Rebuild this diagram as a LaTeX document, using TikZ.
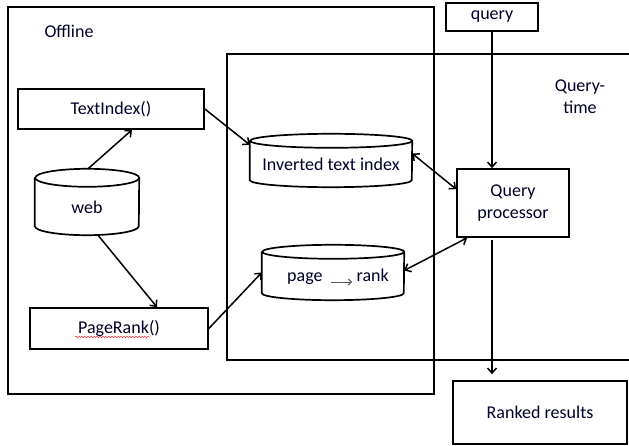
\documentclass[tikz,border=0pt]{standalone}
\usepackage{fontspec}
\setmainfont{Carlito}
\usetikzlibrary{arrows.meta,decorations.pathmorphing}
\newcommand\cylshape[3]{%
  \draw[frame] ([yshift=-#3pt]#1.north west) -- ([yshift=#3pt]#1.south west)
    arc[start angle=180,end angle=360,x radius=#2pt,y radius=#3pt]
    -- ([yshift=-#3pt]#1.north east)
    arc[start angle=0,end angle=360,x radius=#2pt,y radius=#3pt];}
\begin{document}
\begin{tikzpicture}[x=1pt,y=1pt,
  txt/.style={font=\fontsize{18}{22}\selectfont, text=black!85!blue},
  box/.style={txt, draw, line width=1.7pt, inner sep=0pt, align=center},
  cylnode/.style={inner sep=0pt},
  lbl/.style={txt, inner sep=0pt, align=center},
  frame/.style={line width=1.7pt},
  arr/.style={line width=1.5pt, -{Straight Barb[length=5pt,width=9pt]}},
  darr/.style={line width=1.5pt, {Straight Barb[length=5pt,width=9pt]}-{Straight Barb[length=5pt,width=9pt]}}]
\useasboundingbox (0,0) rectangle (629,445);

% frames
\draw[frame] (8,438) rectangle (434,51);
\draw[frame] (640,391) -- (227,391) -- (227,85) -- (640,85);
\node[lbl] (offlinelbl) at (69,414) {Offline};
\node[lbl] (qtlbl) at (580,348) {Query-\\time};

% boxes
\node[box, minimum width=186pt, minimum height=40pt] (textindex) at (111,336) {TextIndex()};
\node[box, minimum width=178pt, minimum height=41pt] (pagerank) at (119,116.5) {PageRank()};
\node[box, minimum width=92pt, minimum height=28pt] (query) at (492,428) {query};
\node[box, minimum width=112pt, minimum height=68pt] (qp) at (513,242) {Query\\processor};
\node[box, minimum width=174pt, minimum height=63pt] (ranked) at (540,32.5) {Ranked results};

% cylinders
\node[cylnode, minimum width=104pt, minimum height=66pt] (web) at (87,243) {};
\cylshape{web}{52}{9}
\node[lbl] (webtext) at ([yshift=-5pt]web.center) {web};

\node[cylnode, minimum width=162pt, minimum height=53pt] (inv) at (331,284.5) {};
\cylshape{inv}{81}{7}
\node[lbl] (invtext) at ([yshift=-4pt]inv.center) {Inverted text index};

\node[cylnode, minimum width=142pt, minimum height=55pt] (prc) at (333,172.5) {};
\cylshape{prc}{71}{7}
\node[lbl] (prctext) at ([xshift=5pt,yshift=-4pt]prc.center) {page\hspace{34pt}rank};
\draw[black!65, line width=1pt, -{Straight Barb[length=3pt,width=6pt]}]
  ([xshift=-2pt,yshift=-9.5pt]prc.center) -- ([xshift=19pt,yshift=-9.5pt]prc.center);

% spell-check underline
\draw[red!80, line width=0.5pt, decorate, decoration={snake, amplitude=0.8pt, segment length=3pt}]
  ([xshift=-44pt,yshift=-8.5pt]pagerank.center) -- ([xshift=31pt,yshift=-8.5pt]pagerank.center);

% connectors
\draw[arr] ([xshift=1pt]web.north) -- ([xshift=21pt]textindex.south);
\draw[arr] (textindex.east) -- ([yshift=-11pt]inv.north west);
\draw[arr] ([xshift=11pt]web.south) -- ([xshift=38pt]pagerank.north);
\draw[arr] (pagerank.east) -- (prc.west);
\draw[darr] ([yshift=7pt]inv.east) -- ([yshift=-21pt]qp.north west);
\draw[darr] ([yshift=2pt]prc.east) -- ([xshift=11pt]qp.south west);
\draw[arr] (query.south) -- (query.south |- qp.north);
\draw[arr, shorten <=2pt, shorten >=6pt] (query.south |- qp.south) -- (query.south |- ranked.north);
\end{tikzpicture}
\end{document}
